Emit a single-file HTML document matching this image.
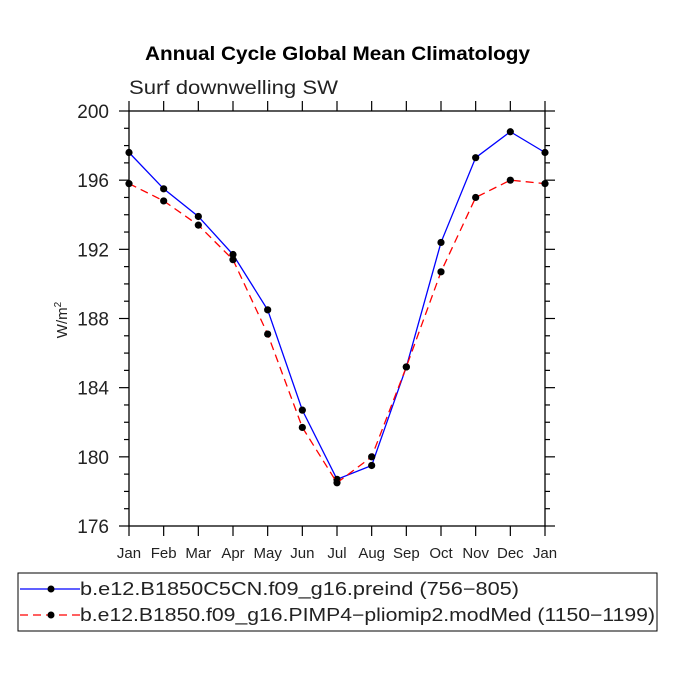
<!DOCTYPE html>
<html><head><meta charset="utf-8">
<style>
body{margin:0;background:#fff;}
svg{display:block;font-family:"Liberation Sans",sans-serif;}
</style></head>
<body>
<svg id="chart" width="675" height="675" viewBox="0 0 675 675">
<text x="145" y="60" textLength="385" lengthAdjust="spacingAndGlyphs" font-size="19" font-weight="bold">Annual Cycle Global Mean Climatology</text>
<text x="129" y="94" textLength="209" lengthAdjust="spacingAndGlyphs" font-size="19" fill="#222">Surf downwelling SW</text>
<text transform="translate(67,320) rotate(-90)" text-anchor="middle" font-size="15" fill="#222">W/m<tspan dy="-6" font-size="10">2</tspan></text>
<g id="axes"></g>
<g id="series"></g>
<g>
<rect x="18" y="573" width="639" height="58" fill="none" stroke="#000" stroke-width="1"/>
<line x1="20" y1="589" x2="80" y2="589" stroke="#00f" stroke-width="1.3"/>
<circle cx="51" cy="589" r="3.5" fill="#000"/>
<text x="80" y="595" textLength="439" lengthAdjust="spacingAndGlyphs" font-size="18" fill="#222">b.e12.B1850C5CN.f09_g16.preind (756−805)</text>
<line x1="20" y1="615" x2="80" y2="615" stroke="#f00" stroke-width="1.3" stroke-dasharray="8,5"/>
<circle cx="51" cy="615" r="3.5" fill="#000"/>
<text x="80" y="621" textLength="575" lengthAdjust="spacingAndGlyphs" font-size="18" fill="#222">b.e12.B1850.f09_g16.PIMP4−pliomip2.modMed (1150−1199)</text>
</g>
</svg>
<script>
const months=["Jan","Feb","Mar","Apr","May","Jun","Jul","Aug","Sep","Oct","Nov","Dec","Jan"];
const preind=[197.6,195.5,193.9,191.7,188.5,182.7,178.7,179.5,185.2,192.4,197.3,198.8,197.6];
const pliomip=[195.8,194.8,193.4,191.4,187.1,181.7,178.5,180.0,185.2,190.7,195.0,196.0,195.8];
const yTicks=[176,180,184,188,192,196,200];
const L=129,R=545,T=111,B=526,yMin=176,yMax=200;
const NS="http://www.w3.org/2000/svg";
const xs=i=>L+(R-L)*i/(months.length-1);
const ys=v=>B-(v-yMin)/(yMax-yMin)*(B-T);
function mk(tag,attrs,parent){const e=document.createElementNS(NS,tag);for(const k in attrs)e.setAttribute(k,attrs[k]);parent.appendChild(e);return e;}
const ax=document.getElementById('axes');
const frame=mk('rect',{x:L,y:T,width:R-L,height:B-T,fill:'none',stroke:'#000','stroke-width':1.3},ax);


for(let v=yMin;v<=yMax;v++){
  const y=ys(v);const major=yTicks.includes(v);const len=major?10:5;
  mk('line',{x1:L,y1:y,x2:L-len,y2:y,stroke:'#000','stroke-width':1.2},ax);
  mk('line',{x1:R,y1:y,x2:R+len,y2:y,stroke:'#000','stroke-width':1.2},ax);
}
yTicks.forEach(v=>{
  const t=mk('text',{x:109,y:ys(v)+7,'text-anchor':'end','font-size':19,fill:'#222'},ax);
  t.textContent=v;
  
  
});
months.forEach((m,i)=>{
  const x=xs(i);
  mk('line',{x1:x,y1:B,x2:x,y2:B+10,stroke:'#000','stroke-width':1.2},ax);
  mk('line',{x1:x,y1:T,x2:x,y2:T-10,stroke:'#000','stroke-width':1.2},ax);
  const t=mk('text',{x:x,y:B+32,'text-anchor':'middle','font-size':15,fill:'#222'},ax);
  t.textContent=m;
  
  
});
const sg=document.getElementById('series');
function draw(vals,color,dash,name){
  const pts=vals.map((v,i)=>xs(i)+','+ys(v)).join(' ');
  const pl=mk('polyline',{points:pts,fill:'none',stroke:color,'stroke-width':1.3},sg);
  if(dash)pl.setAttribute('stroke-dasharray',dash);
  
  
  vals.forEach((v,i)=>{
    const c=mk('circle',{cx:xs(i),cy:ys(v),r:3.6,fill:'#000'},sg);
    
    
  });
}
draw(preind,'#00f',null,'preind');
draw(pliomip,'#f00','8,5','pliomip');
</script>
</body></html>
